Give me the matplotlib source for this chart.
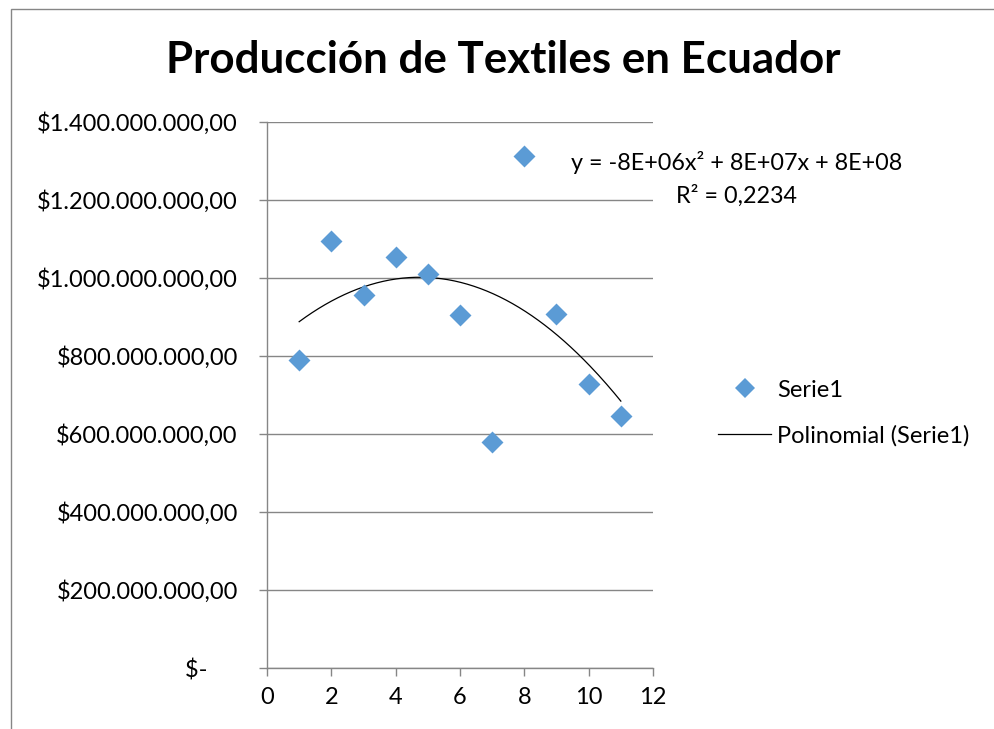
import numpy as np
import matplotlib
matplotlib.use("Agg")
import matplotlib.pyplot as plt
from matplotlib.lines import Line2D
from matplotlib.patches import Rectangle

# data
periodo = [1, 2, 3, 4, 5, 6, 7, 8, 9, 10, 11]
produccion = [789.5e6, 1094e6, 957e6, 1055e6, 1011e6, 905e6, 580e6,
              1314e6, 907e6, 728e6, 647e6]
y_ticks = [0, 200e6, 400e6, 600e6, 800e6, 1000e6, 1200e6, 1400e6]
y_labels = ["\\$-     ", "\\$200.000.000,00", "\\$400.000.000,00", "\\$600.000.000,00",
            "\\$800.000.000,00", "\\$1.000.000.000,00", "\\$1.200.000.000,00",
            "\\$1.400.000.000,00"]
x_ticks = [0, 2, 4, 6, 8, 10, 12]

plt.rcParams['font.family'] = ['Lato', 'DejaVu Sans']
grey = "#868686"
blue = "#5B9BD5"

fig = plt.figure(figsize=(9.94, 7.29), dpi=100)
ax = fig.add_axes([267/994, 1 - 668/729, (653 - 267)/994, (668 - 122)/729])

# outer chart border (cut off on the right and bottom)
fig.patches.append(Rectangle((11/994, -0.1), 1.2, 0.1 + (1 - 9/729),
                             transform=fig.transFigure, fill=False,
                             edgecolor=grey, linewidth=1.0))

ax.scatter(periodo, produccion, marker="D", s=125, color=blue, zorder=3,
           linewidths=0)

# polynomial trend line (order 2)
coef = np.polyfit(periodo, produccion, 2)
xx = np.linspace(1, 11, 200)
ax.plot(xx, np.polyval(coef, xx), color="black", linewidth=0.9, zorder=2)

ax.set_xlim(0, 12)
ax.set_ylim(0, 1400e6)
ax.set_xticks(x_ticks)
ax.set_yticks(y_ticks)
ax.set_yticklabels(y_labels)
ax.yaxis.grid(True, color=grey, linewidth=1.0)
ax.set_axisbelow(True)
for s in ["top", "right"]:
    ax.spines[s].set_visible(False)
for s in ["left", "bottom"]:
    ax.spines[s].set_color(grey)
    ax.spines[s].set_linewidth(1.0)
ax.tick_params(axis="both", colors=grey, labelcolor="black", labelsize=17,
               length=6, width=1.0, direction="out")
ax.tick_params(axis="y", pad=15)
ax.tick_params(axis="x", pad=8)

fig.text(503/994, 1 - 60/729, "Producción de Textiles en Ecuador",
         ha="center", va="center", fontsize=31.6, fontweight="bold")

fig.text(737/994, 1 - 163/729, "y = -8E+06x² + 8E+07x + 8E+08",
         ha="center", va="center", fontsize=16.8)
fig.text(737/994, 1 - 196/729, "R² = 0,2234",
         ha="center", va="center", fontsize=16.8)

handles = [Line2D([], [], marker="D", linestyle="none", color=blue,
                  markersize=10, markeredgewidth=0),
           Line2D([], [], color="black", linewidth=0.9)]
fig.legend(handles, ["Serie1", "Polinomial (Serie1)"],
           loc="center left", bbox_to_anchor=(697/994, 1 - 413/729),
           frameon=False, fontsize=17, handlelength=2.25, handletextpad=0.25,
           labelspacing=1.03)

fig.savefig("out.png", dpi=100)
